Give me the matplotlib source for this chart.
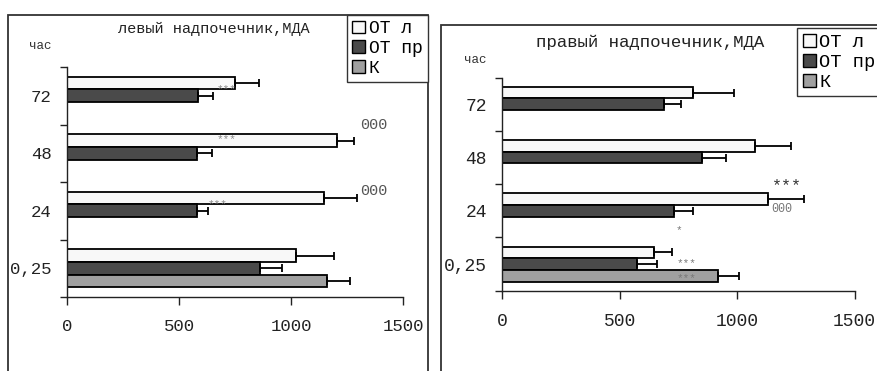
import matplotlib
matplotlib.use("Agg")
import matplotlib.pyplot as plt
from matplotlib.patches import Patch, Rectangle
import numpy as np

plt.rcParams['font.family'] = ['Liberation Mono', 'DejaVu Sans Mono']

hours = ['0,25', '24', '48', '72']
series_names = ['ОТ л', 'ОТ пр', 'К']

# left adrenal
left_otl = [1024, 1149, 1204, 750]
left_otl_err = [167, 147, 77, 107]
left_otpr = [863, 582, 582, 583]
left_otpr_err = [98, 46, 67, 70]
left_k = [1159]
left_k_err = [106]

# right adrenal
right_otl = [647, 1132, 1074, 813]
right_otl_err = [77, 151, 154, 173]
right_otpr = [575, 729, 849, 687]
right_otpr_err = [85, 83, 105, 75]
right_k = [918]
right_k_err = [90]

W, H = 878, 371
fig = plt.figure(figsize=(W / 100, H / 100), dpi=100)

colors = ['#f8f8f8', '#4a4a4a', '#a0a0a0']
bh = 0.22


def px_axes(x0, x1, ytop, ybot):
    return fig.add_axes([x0 / W, (H - ybot) / H, (x1 - x0) / W, (ybot - ytop) / H])


def draw_panel(ax, otl, otl_e, otpr, otpr_e, k, k_e, fs):
    y = np.arange(len(hours))
    ekw = dict(elinewidth=1.3, capthick=1.3, ecolor='black')
    ax.barh(y + bh, otl, height=bh, color=colors[0], edgecolor='black', linewidth=1.3,
            xerr=[np.zeros(len(otl)), otl_e], capsize=3, error_kw=ekw)
    ax.barh(y, otpr, height=bh, color=colors[1], edgecolor='black', linewidth=1.3,
            xerr=[np.zeros(len(otpr)), otpr_e], capsize=3, error_kw=ekw)
    ky = y[:len(k)] - bh
    ax.barh(ky, k, height=bh, color=colors[2], edgecolor='black', linewidth=1.3,
            xerr=[np.zeros(len(k)), k_e], capsize=3, error_kw=ekw)
    ax.set_xlim(0, 1500)
    ax.set_ylim(-0.5, 3.5)
    ax.set_xticks([0, 500, 1000, 1500])
    ax.set_yticks([-0.5, 0.5, 1.5, 2.5, 3.5], minor=False)
    ax.set_yticklabels([])
    ax.set_yticks(y, minor=True)
    ax.set_yticklabels(hours, minor=True)
    ax.tick_params(axis='y', which='minor', length=0, labelsize=fs, pad=11, colors='#222222')
    ax.tick_params(axis='y', which='major', length=5, width=1, color='#222222')
    ax.tick_params(axis='x', length=6, width=1, labelsize=fs, pad=10, colors='#222222')
    for s in ['top', 'right']:
        ax.spines[s].set_visible(False)
    for s in ['left', 'bottom']:
        ax.spines[s].set_linewidth(1)
        ax.spines[s].set_color('#222222')
    ax.patch.set_alpha(0)


def frame(x0, y0, x1, y1):
    fig.patches.append(Rectangle((x0 / W, (H - y1) / H), (x1 - x0) / W, (y1 - y0) / H,
                                 transform=fig.transFigure, fill=False,
                                 edgecolor='#333333', linewidth=1.3))


def legend(x0, ytop, fs, spacing):
    handles = [Patch(facecolor=c, edgecolor='black', linewidth=1) for c in colors]
    fig.legend(handles, series_names, loc='upper left',
               bbox_to_anchor=(x0 / W, (H - ytop) / H), fontsize=fs,
               frameon=True, fancybox=False, framealpha=1, edgecolor='#333333',
               handlelength=0.7, handleheight=0.7, handletextpad=0.2,
               borderpad=0.3, labelspacing=spacing, borderaxespad=0)


# frames
frame(8, 15, 428, 380)
frame(441, 25, 890, 380)

# left panel
axL = px_axes(67, 403, 67, 297)
draw_panel(axL, left_otl, left_otl_err, left_otpr, left_otpr_err, left_k, left_k_err, 12.5)
fig.text(214 / W, (H - 29) / H, 'левый надпочечник,МДА', ha='center', va='center',
         fontsize=11, color='#222222')
fig.text(40 / W, (H - 46) / H, 'час', ha='center', va='center', fontsize=9, color='#333333')
axL.text(714, 3.11, '***', ha='center', va='center', fontsize=8, color='#888888')
axL.text(714, 2.25, '***', ha='center', va='center', fontsize=8, color='#888888')
axL.text(1310, 2.49, '000', ha='left', va='center', fontsize=11, color='#555555')
axL.text(1310, 1.34, '000', ha='left', va='center', fontsize=11, color='#555555')
axL.text(674, 1.12, '***', ha='center', va='center', fontsize=8, color='#888888')
legend(347, 15, 13, 0.15)

# right panel
axR = px_axes(502.3, 854.7, 77.7, 290.7)
draw_panel(axR, right_otl, right_otl_err, right_otpr, right_otpr_err, right_k, right_k_err, 13)
fig.text(650 / W, (H - 42) / H, 'правый надпочечник,МДА', ha='center', va='center',
         fontsize=12.5, color='#222222')
fig.text(475 / W, (H - 60) / H, 'час', ha='center', va='center', fontsize=9, color='#333333')
axR.text(1212, 1.47, '***', ha='center', va='center', fontsize=12, color='#333333')
axR.text(1143, 1.03, '000', ha='left', va='center', fontsize=8.5, color='#777777')
axR.text(752, 0.64, '*', ha='center', va='center', fontsize=8, color='#777777')
axR.text(786, 0.02, '***', ha='center', va='center', fontsize=8, color='#777777')
axR.text(786, -0.26, '***', ha='center', va='center', fontsize=8, color='#777777')
legend(797, 28, 13.5, 0.15)

fig.savefig('out.png', dpi=100)
